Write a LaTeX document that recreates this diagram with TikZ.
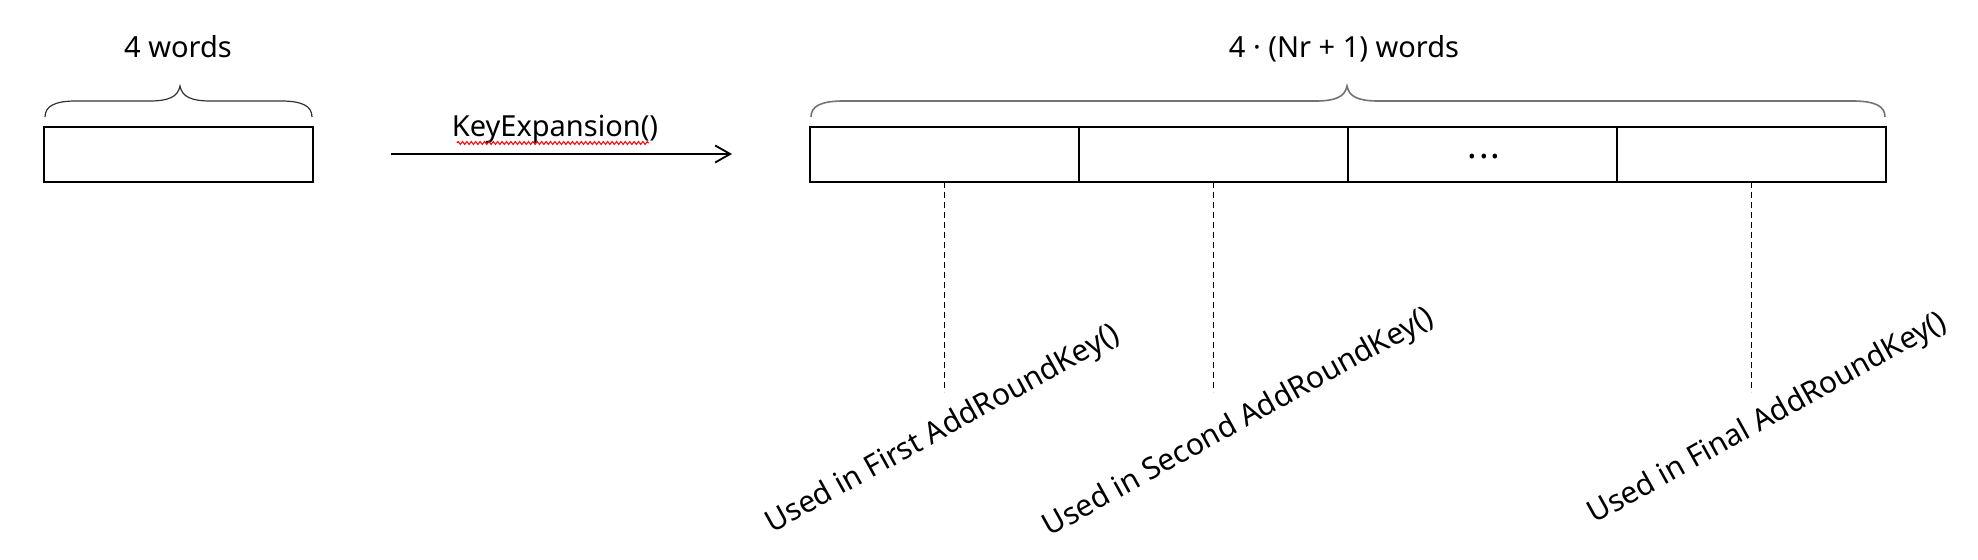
\documentclass[tikz,border=0pt]{standalone}
\usepackage{fontspec}
\setmainfont{Noto Sans}
\usetikzlibrary{arrows.meta,decorations.pathmorphing}
\begin{document}
\begin{tikzpicture}[x=0.5pt,y=-0.5pt,
  box/.style={draw,line width=1pt,minimum width=134.5pt,minimum height=27.5pt,inner sep=0pt,outer sep=0pt},
  lbl/.style={font=\fontsize{14.5}{17}\selectfont,inner sep=0pt},
  rlbl/.style={font=\fontsize{15}{18}\selectfont,inner sep=0pt,rotate=29},
  guide/.style={draw,line width=0.5pt,dash pattern=on 3pt off 2pt},
  smallbrace/.style={draw,line width=0.6pt,black!80},
  bigbrace/.style={draw,line width=0.8pt,black!55},
  squiggle/.style={draw,red,line width=0.5pt,decorate,decoration={zigzag,segment length=2.2pt,amplitude=0.75pt}}]
\useasboundingbox (0,0) rectangle (1978,560);
% source key
\node[box] (src) at (178.5,154.5) {};
\node[lbl,anchor=base] (w4) at (178,58) {4 words};
\draw[smallbrace] (45,117) .. controls (45,106) and (55,101) .. (76,101) -- (150,101)
  .. controls (168,101) and (178,97) .. (180,86) .. controls (182,97) and (192,101) .. (210,101)
  -- (281,101) .. controls (302,101) and (312,106) .. (312,117);
% arrow
\coordinate (a1) at (391,154);
\coordinate (a2) at (732,154);
\draw[line width=1pt,-{Straight Barb[length=7.5pt,width=8.5pt,line width=0.9pt]}] (a1) -- (a2);
\node[lbl,anchor=base] (kx) at (555,137) {KeyExpansion()};
\draw[squiggle] (457,143) -- (649,143);
% expanded key
\node[box] (c1) at (944.5,154.5) {};
\node[box] (c2) at (1213.5,154.5) {};
\node[box] (c3) at (1482.5,154.5) {};
\node[box] (c4) at (1751.5,154.5) {};
\node[inner sep=0pt,font=\fontsize{18}{18}\selectfont\bfseries] (dots) at (1484,157) {.\kern0.8pt.\kern0.8pt.};
\node[lbl,anchor=base] (wn) at (1344,58) {4 · (Nr + 1) words};
\draw[bigbrace] (811,117) .. controls (811,106) and (821,101) .. (844,101) -- (1316,101)
  .. controls (1335,101) and (1345,97) .. (1347,86) .. controls (1349,97) and (1359,101) .. (1378,101)
  -- (1852,101) .. controls (1875,101) and (1885,106) .. (1885,117);
% guides
\coordinate (d1) at (944.5,392);
\coordinate (d2) at (1213.5,392);
\coordinate (d4) at (1751.5,392);
\draw[guide] (c1.south) -- (d1);
\draw[guide] (c2.south) -- (d2);
\draw[guide] (c4.south) -- (d4);
\node[rlbl] (u1) at (943,430) {Used in First AddRoundKey()};
\node[rlbl] (u2) at (1239,423) {Used in Second AddRoundKey()};
\node[rlbl] (u4) at (1768,419) {Used in Final AddRoundKey()};
\end{tikzpicture}
\end{document}
